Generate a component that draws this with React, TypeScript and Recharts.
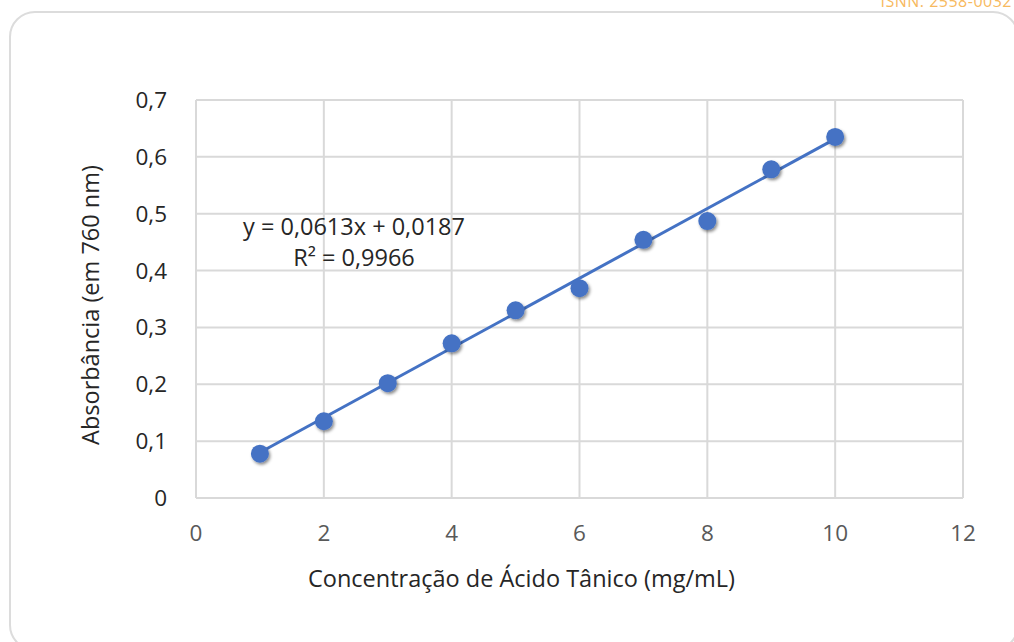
import React from 'react';
import {
  ScatterChart,
  Scatter,
  XAxis,
  YAxis,
  CartesianGrid,
  ReferenceLine,
  Label,
} from 'recharts';

const concentracoes = [1, 2, 3, 4, 5, 6, 7, 8, 9, 10];
const absorbancias = [0.078, 0.135, 0.202, 0.272, 0.33, 0.369, 0.454, 0.487, 0.578, 0.635];
const xTicks = [0, 2, 4, 6, 8, 10, 12];
const yTicks = [0, 0.1, 0.2, 0.3, 0.4, 0.5, 0.6, 0.7];
const slope = 0.0613;
const intercept = 0.0187;
const equationText = 'y = 0,0613x + 0,0187';
const r2Text = 'R² = 0,9966';
const xTitle = 'Concentração de Ácido Tânico (mg/mL)';
const yTitle = 'Absorbância (em 760 nm)';

const BLUE = '#4472c4';
const GRID = '#d9d9d9';
const FONT = '"Open Sans", "Noto Sans", sans-serif';

const pontos = concentracoes.map((x, i) => ({ x, y: absorbancias[i] }));
const xMin = concentracoes[0];
const xMax = concentracoes[concentracoes.length - 1];

const fmt = (v: number) => String(v).replace('.', ',');

// marcador com sombra, no estilo do Excel
const Marker = (props: any) => {
  const { cx, cy } = props;
  if (cx == null || cy == null) return null;
  return <circle cx={cx} cy={cy} r={9} fill={BLUE} filter="url(#markerShadow)" />;
};

const XTitle = ({ viewBox }: any) => (
  <text
    x={viewBox.x + viewBox.width / 2 - 58}
    y={viewBox.y + 80}
    textAnchor="middle"
    dominantBaseline="central"
    fill="#262626"
    fontSize={23.5}
    fontFamily={FONT}
  >
    {xTitle}
  </text>
);

const YTitle = ({ viewBox }: any) => {
  const cx = 90;
  const cy = viewBox.y + viewBox.height / 2 + 6;
  return (
    <text
      x={cx}
      y={cy}
      transform={`rotate(-90 ${cx} ${cy})`}
      textAnchor="middle"
      dominantBaseline="central"
      fill="#262626"
      fontSize={23.5}
      fontFamily={FONT}
    >
      {yTitle}
    </text>
  );
};

export default function App() {
  return (
    <div
      style={{
        position: 'absolute',
        left: 0,
        top: 0,
        width: 1014,
        height: 642,
        overflow: 'hidden',
        background: '#fff',
        fontFamily: FONT,
      }}
    >
      <svg width={0} height={0} style={{ position: 'absolute' }}>
        <defs>
          <filter id="markerShadow" x="-50%" y="-50%" width="200%" height="200%">
            <feDropShadow dx="1.5" dy="2" stdDeviation="1.6" floodColor="#000" floodOpacity="0.45" />
          </filter>
        </defs>
      </svg>

      <div
        style={{
          position: 'absolute',
          right: 2,
          top: -10,
          color: '#f7b95e',
          fontSize: 16,
          fontFamily: '"Open Sans", sans-serif',
          letterSpacing: 0.5,
        }}
      >
        ISNN: 2558-0032
      </div>

      <div
        style={{
          position: 'absolute',
          left: 9,
          top: 11,
          width: 1010,
          height: 640,
          border: '2px solid #dcdcdc',
          borderRadius: 26,
          boxSizing: 'border-box',
        }}
      />

      <div style={{ position: 'absolute', left: 0, top: 0 }}>
        <ScatterChart
          width={1014}
          height={642}
          margin={{ top: 100, right: 51, bottom: 0, left: 0 }}
        >
          <CartesianGrid stroke={GRID} strokeWidth={2} />
          <XAxis
            type="number"
            dataKey="x"
            domain={[0, 12]}
            ticks={xTicks}
            height={144}
            axisLine={{ stroke: GRID, strokeWidth: 2 }}
            tickLine={false}
            tickMargin={21}
            tick={{ fill: '#595959', fontSize: 22.5, fontFamily: FONT }}
          >
            <Label content={<XTitle />} />
          </XAxis>
          <YAxis
            type="number"
            dataKey="y"
            domain={[0, 0.7]}
            ticks={yTicks}
            width={196}
            axisLine={{ stroke: GRID, strokeWidth: 2 }}
            tickLine={false}
            tickMargin={23}
            tickFormatter={fmt}
            tick={{ fill: '#262626', fontSize: 22.5, fontFamily: FONT }}
          >
            <Label content={<YTitle />} />
          </YAxis>
          <ReferenceLine
            segment={[
              { x: xMin, y: slope * xMin + intercept },
              { x: xMax, y: slope * xMax + intercept },
            ]}
            stroke={BLUE}
            strokeWidth={3}
            ifOverflow="visible"
          />
          <Scatter data={pontos} shape={<Marker />} isAnimationActive={false} />
        </ScatterChart>
      </div>

      <div
        style={{
          position: 'absolute',
          left: 223,
          top: 211,
          width: 262,
          textAlign: 'center',
          fontSize: 23.5,
          lineHeight: '31px',
          color: '#262626',
        }}
      >
        <div style={{ whiteSpace: 'nowrap' }}>{equationText}</div>
        <div style={{ whiteSpace: 'nowrap' }}>{r2Text}</div>
      </div>
    </div>
  );
}
